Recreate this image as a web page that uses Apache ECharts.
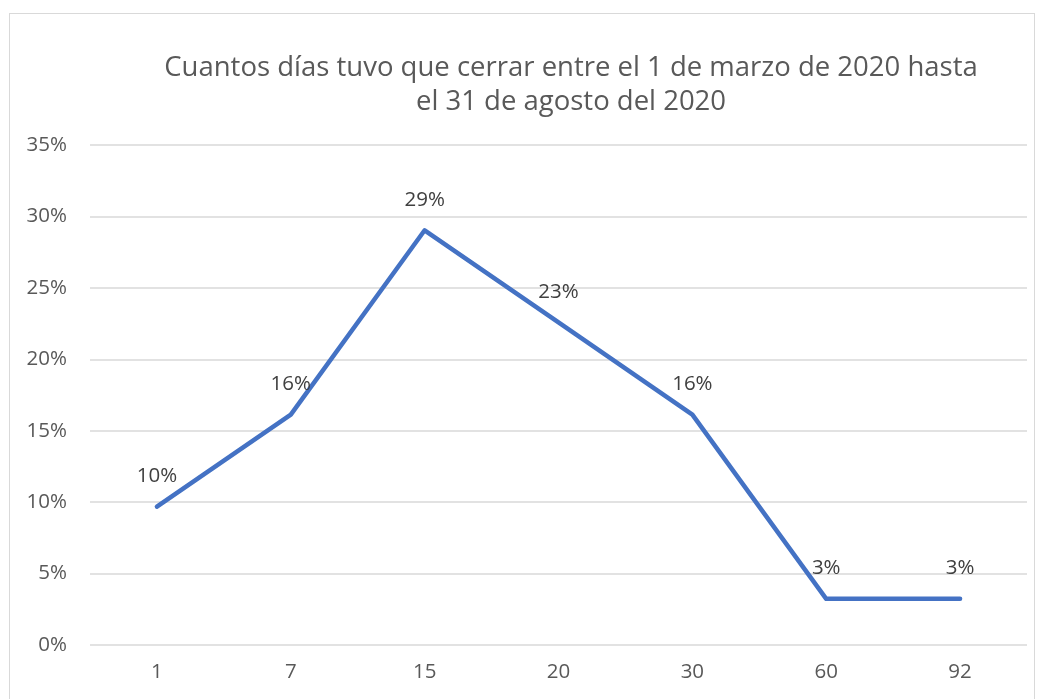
<!DOCTYPE html>
<html>
<head>
<meta charset="utf-8">
<script src="https://cdn.jsdelivr.net/npm/echarts@6/dist/echarts.min.js"></script>
<style>
    html, body { margin: 0; padding: 0; background: #fff; }
    #frame { position: absolute; left: 9px; top: 13px; width: 1026px; height: 720px; border: 1px solid #d9d9d9; box-sizing: border-box; }
    #chart { position: absolute; left: 0; top: 0; width: 1044px; height: 699px; }
</style>
</head>
<body>
<div id="frame"></div>
<div id="chart"></div>
<script>
const titleText = "Cuantos días tuvo que cerrar entre el 1 de marzo de 2020 hasta\nel 31 de agosto del 2020";
const days = ["1", "7", "15", "20", "30", "60", "92"];
const shares = [0.0968, 0.1613, 0.2903, 0.2258, 0.1613, 0.0323, 0.0323];

document.addEventListener("DOMContentLoaded", function () {
    const chart = echarts.init(document.getElementById("chart"));

    const pct = v => Math.round(v * 100) + "%";

    const option = {
        animation: false,
        title: {
            text: titleText,
            left: 566,
            textAlign: "center",
            top: 46,
            textStyle: {
                color: "#595959",
                fontSize: 27.5,
                fontWeight: "normal",
                fontFamily: "Open Sans",
                lineHeight: 34
            }
        },
        grid: { left: 90, right: 17, top: 145, bottom: 54 },
        xAxis: {
            type: "category",
            data: days,
            boundaryGap: true,
            axisLine: { show: false },
            axisTick: { show: false },
            axisLabel: { color: "#595959", fontSize: 20.5, fontFamily: "Open Sans", margin: 17 }
        },
        yAxis: {
            type: "value",
            min: 0,
            max: 0.35,
            interval: 0.05,
            axisLine: { show: false },
            axisTick: { show: false },
            axisLabel: {
                color: "#595959",
                fontSize: 20.5,
                fontFamily: "Open Sans",
                margin: 23,
                formatter: pct
            },
            splitLine: { lineStyle: { color: "#d9d9d9", width: 1.5 } }
        },
        series: [
            {
                type: "line",
                data: shares,
                symbol: "circle",
                symbolSize: 2,
                showAllSymbol: true,
                itemStyle: { color: "rgba(68,114,196,0)", borderWidth: 0 },
                lineStyle: { color: "#4472C4", width: 4.5, cap: "round", join: "round" },
                label: {
                    show: true,
                    position: "top",
                    distance: 19,
                    color: "#404040",
                    fontSize: 20.5,
                    fontFamily: "Open Sans",
                    formatter: p => pct(p.value)
                }
            }
        ]
    };

    chart.setOption(option);
});
</script>
</body>
</html>
